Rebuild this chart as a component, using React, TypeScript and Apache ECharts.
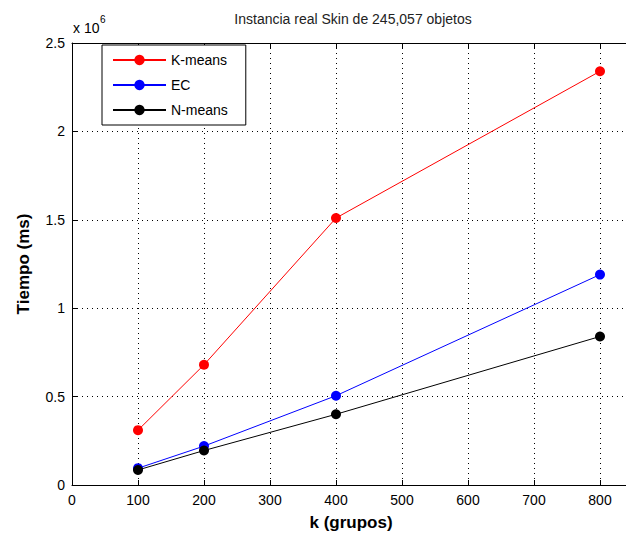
import React, { useEffect, useRef } from "react";
import * as echarts from "echarts";

const categories = [100, 200, 400, 800];
const kmeans = [310000, 680000, 1510000, 2340000];
const ecValues = [95000, 220000, 505000, 1190000];
const nmeans = [85000, 195000, 400000, 840000];
const seriesNames = ["K-means", "EC", "N-means"];
const seriesColors = ["#ff0000", "#0000ff", "#000000"];

const FONT = "'Liberation Sans', Arial, Helvetica, sans-serif";

export default function App() {
  const ref = useRef<HTMLDivElement>(null);
  useEffect(() => {
    if (!ref.current) return;
    const chart = echarts.init(ref.current, undefined, { renderer: "svg" });
    const all = [kmeans, ecValues, nmeans];
    const gridLine = { show: true, lineStyle: { color: "#000", type: [1, 4] as any, width: 1 } };
    chart.setOption({
      animation: false,
      backgroundColor: "#fff",
      textStyle: { fontFamily: FONT },
      grid: {
        left: 72,
        width: 594,
        top: 43,
        height: 442,
        containLabel: false,
        outerBoundsMode: "none",
      } as any,
      legend: {
        left: 102,
        top: 45,
        orient: "vertical",
        data: seriesNames,
        itemWidth: 53,
        itemHeight: 13,
        itemGap: 11,
        padding: [8, 18, 8, 10],
        borderColor: "#000",
        borderWidth: 1,
        backgroundColor: "#fff",
        borderRadius: 0,
        textStyle: { fontFamily: FONT, fontSize: 14, color: "#000" },
      },
      xAxis: [
        {
          type: "value",
          min: 0,
          max: 900,
          interval: 100,
          axisLine: { show: true, onZero: false, lineStyle: { color: "#000", width: 1 } },
          axisTick: { show: true, inside: true, length: 5, lineStyle: { color: "#000" } },
          axisLabel: {
            color: "#000",
            fontSize: 14,
            fontFamily: FONT,
            margin: 8,
            showMaxLabel: false,
            formatter: (v: number) => (v > 800 ? "" : String(v)),
          },
          splitLine: gridLine,
        },
        {
          type: "value",
          position: "top",
          min: 0,
          max: 900,
          interval: 100,
          axisLine: { show: true, onZero: false, lineStyle: { color: "#000", width: 1 } },
          axisTick: { show: true, inside: true, length: 5, lineStyle: { color: "#000" } },
          axisLabel: { show: false },
          splitLine: { show: false },
        },
      ],
      yAxis: {
        type: "value",
        min: 0,
        max: 2500000,
        interval: 500000,
        axisLine: { show: true, onZero: false, lineStyle: { color: "#000", width: 1 } },
        axisTick: { show: true, inside: true, length: 5, lineStyle: { color: "#000" } },
        axisLabel: {
          color: "#000",
          fontSize: 14,
          fontFamily: FONT,
          margin: 7,
          formatter: (v: number) => String(v / 1e6),
        },
        splitLine: gridLine,
      },
      series: seriesNames.map((name, i) => ({
        name,
        type: "line",
        xAxisIndex: 0,
        data: categories.map((c, j) => [c, all[i][j]]),
        symbol: "circle",
        symbolSize: 10,
        color: seriesColors[i],
        lineStyle: { color: seriesColors[i], width: 1 },
        itemStyle: { color: seriesColors[i] },
        z: 2 + i,
      })),
      graphic: [
        {
          type: "text",
          x: 353,
          y: 19,
          style: {
            text: "Instancia real Skin de 245,057 objetos",
            fontSize: 14,
            fontFamily: FONT,
            fill: "#222",
            align: "center",
            verticalAlign: "middle",
          },
        },
        {
          type: "text",
          x: 73,
          y: 21,
          style: { text: "x 10", fontSize: 14, fontFamily: FONT, fill: "#000", align: "left", verticalAlign: "top" },
        },
        {
          type: "text",
          x: 100,
          y: 14,
          style: { text: "6", fontSize: 10, fontFamily: FONT, fill: "#000", align: "left", verticalAlign: "top" },
        },
        {
          type: "text",
          x: 351,
          y: 522,
          style: {
            text: "k (grupos)",
            fontSize: 17,
            fontWeight: "bold",
            fontFamily: FONT,
            fill: "#000",
            align: "center",
            verticalAlign: "middle",
          },
        },
        {
          type: "text",
          x: 23,
          y: 264,
          rotation: Math.PI / 2,
          style: {
            text: "Tiempo (ms)",
            fontSize: 17,
            fontWeight: "bold",
            fontFamily: FONT,
            fill: "#000",
            align: "center",
            verticalAlign: "middle",
          },
        },
      ],
    });
    return () => chart.dispose();
  }, []);
  return (
    <div
      ref={ref}
      style={{ position: "absolute", left: 0, top: 0, width: 626, height: 536, background: "#fff" }}
    />
  );
}
